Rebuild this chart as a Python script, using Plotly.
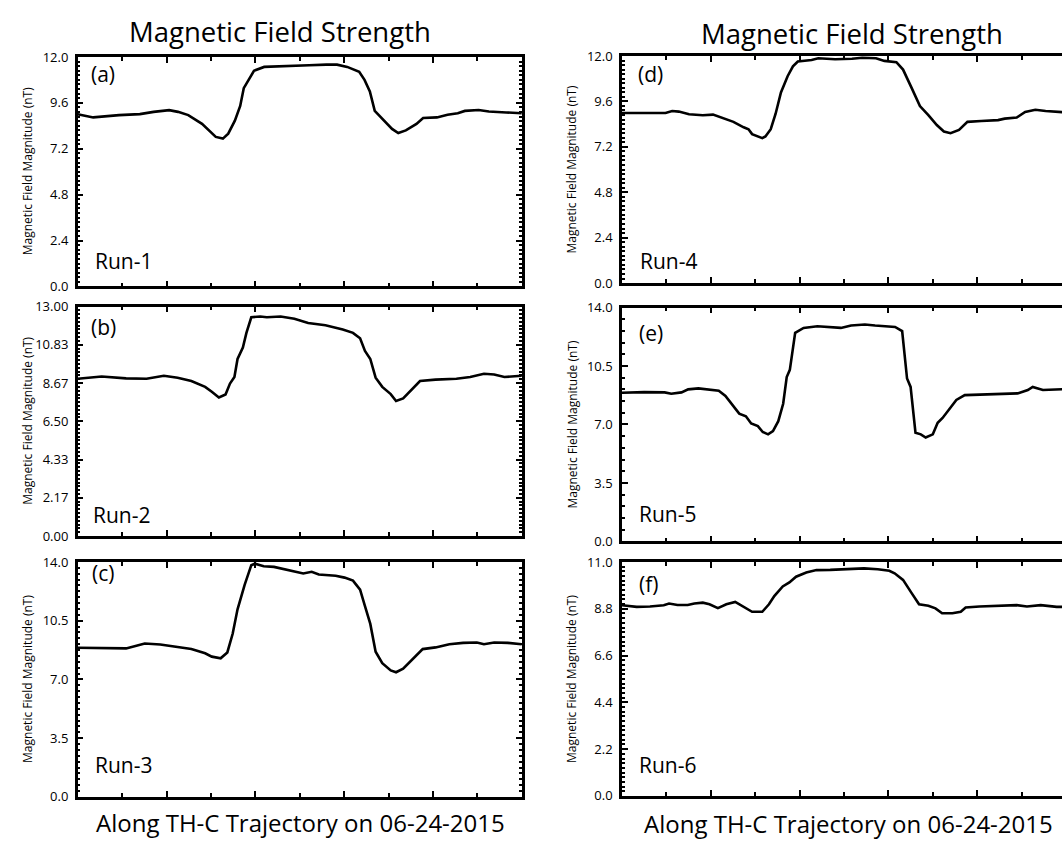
import plotly.graph_objects as go

# ---------------- data (x: % along trajectory, y: |B| in nT) ----------------
x_a = [0, 3.5, 9.3, 14.0, 17.1, 20.6, 22.6, 24.9, 28.0, 29.6, 31.1, 32.7, 33.9, 35.4, 36.6, 37.4, 38.5, 39.7,
       42.0, 46.7, 52.1, 56.0, 58.4, 60.7, 63.4, 64.6, 65.8, 66.9, 68.9, 70.8, 72.2, 73.9, 76.3, 77.8, 80.9,
       83.3, 85.6, 87.2, 90.3, 92.6, 96.5, 100]
y_a = [9.01, 8.84, 8.96, 9.01, 9.13, 9.22, 9.13, 8.96, 8.50, 8.16, 7.82, 7.73, 7.99, 8.67, 9.44, 10.37, 10.80, 11.28,
       11.48, 11.54, 11.57, 11.60, 11.60, 11.48, 11.23, 10.80, 10.20, 9.18, 8.67, 8.24, 8.02, 8.16, 8.50, 8.81, 8.84,
       8.98, 9.06, 9.18, 9.23, 9.15, 9.10, 9.06]

x_b = [0, 5.4, 10.9, 15.5, 19.4, 22.5, 25.6, 28.7, 30.2, 31.8, 33.3, 34.3, 35.3, 36.0, 37.2, 38.0, 39.1, 41.1,
       42.6, 45.7, 48.8, 51.9, 55.8, 59.7, 62.0, 63.6, 64.7, 65.9, 67.1, 68.6, 70.5, 71.7, 73.3, 75.2, 77.1,
       80.6, 85.3, 88.4, 91.5, 93.8, 96.1, 100]
y_b = [8.91, 9.04, 8.93, 8.91, 9.08, 8.97, 8.78, 8.45, 8.17, 7.85, 8.02, 8.64, 9.01, 10.03, 10.68, 11.51, 12.39, 12.44,
       12.39, 12.44, 12.31, 12.07, 11.94, 11.70, 11.51, 11.20, 10.49, 10.03, 8.97, 8.45, 8.04, 7.65, 7.80, 8.30, 8.78,
       8.86, 8.91, 9.01, 9.19, 9.15, 9.01, 9.08]

x_c = [0, 5.4, 10.9, 12.8, 15.1, 18.6, 22.5, 25.6, 28.7, 30.2, 32.2, 33.7, 34.9, 36.0, 37.6, 39.1, 39.9, 41.9,
       44.2, 48.1, 50.8, 52.7, 54.3, 58.1, 60.1, 62.0, 63.6, 64.7, 65.9, 67.1, 68.6, 70.5, 71.7, 73.3, 75.2,
       77.7, 80.6, 83.7, 86.8, 89.9, 91.5, 93.8, 96.9, 100]
y_c = [8.89, 8.85, 8.85, 8.98, 9.14, 9.08, 8.94, 8.81, 8.56, 8.36, 8.26, 8.61, 9.72, 11.18, 12.64, 13.81, 13.90, 13.75,
       13.71, 13.47, 13.32, 13.42, 13.26, 13.18, 13.07, 12.89, 12.35, 11.37, 10.31, 8.65, 7.97, 7.54, 7.43, 7.64, 8.17,
       8.81, 8.91, 9.10, 9.18, 9.20, 9.10, 9.20, 9.18, 9.10]

x_d = [0, 4.4, 9.8, 11.3, 12.8, 15.1, 18.2, 20.5, 22.8, 25.1, 27.4, 28.5, 29.3, 31.6, 32.3, 33.5, 34.6, 35.8,
       37.3, 38.5, 39.6, 42.7, 44.2, 48.0, 51.8, 54.1, 57.2, 59.1, 61.8, 63.3, 65.2, 67.1, 69.0, 70.9, 72.5,
       74.0, 75.9, 77.8, 80.9, 84.7, 86.2, 88.9, 90.8, 93.1, 95.4, 99.1, 100]
y_d = [8.99, 8.99, 8.99, 9.09, 9.06, 8.92, 8.87, 8.90, 8.73, 8.52, 8.23, 8.13, 7.87, 7.66, 7.75, 8.13, 8.95, 10.07,
       10.93, 11.45, 11.71, 11.79, 11.88, 11.83, 11.85, 11.91, 11.88, 11.74, 11.67, 11.28, 10.33, 9.35, 8.87, 8.35, 8.01,
       7.92, 8.09, 8.52, 8.56, 8.61, 8.69, 8.75, 9.04, 9.16, 9.09, 9.02, 9.02]

x_e = [0, 5.0, 9.6, 11.1, 13.4, 14.9, 17.2, 19.5, 21.8, 23.3, 24.8, 26.4, 27.9, 29.1, 30.6, 31.7, 32.9, 34.0,
       35.2, 36.3, 37.1, 37.8, 39.0, 40.9, 44.0, 47.0, 49.3, 51.6, 54.7, 57.0, 59.3, 61.5, 63.1, 64.2, 65.0,
       66.1, 67.3, 68.4, 70.0, 71.1, 72.2, 73.8, 75.3, 77.2, 80.7, 84.5, 89.1, 91.4, 92.5, 94.8, 98.1, 100]
y_e = [8.90, 8.94, 8.92, 8.84, 8.92, 9.10, 9.16, 9.10, 9.02, 8.71, 8.18, 7.65, 7.49, 7.06, 6.90, 6.55, 6.41, 6.61,
       7.20, 8.24, 9.84, 10.27, 12.49, 12.78, 12.88, 12.82, 12.78, 12.92, 12.98, 12.92, 12.90, 12.84, 12.59, 9.75, 9.25,
       6.51, 6.41, 6.22, 6.41, 7.10, 7.39, 7.98, 8.47, 8.76, 8.80, 8.82, 8.86, 9.06, 9.25, 9.06, 9.12, 9.12]

x_f = [0, 3.3, 6.3, 9.4, 10.6, 12.5, 14.8, 16.3, 18.2, 19.7, 21.6, 23.5, 25.5, 27.0, 28.5, 29.3, 31.6, 33.1,
       34.3, 36.2, 37.7, 39.2, 41.5, 43.8, 46.9, 50.7, 54.5, 57.6, 60.2, 61.4, 63.3, 65.2, 66.9, 69.0, 70.6,
       72.1, 74.4, 76.3, 77.4, 80.5, 83.6, 86.6, 88.9, 91.2, 94.3, 97.9, 100]
y_f = [8.97, 8.89, 8.91, 8.97, 9.05, 8.98, 8.98, 9.05, 9.09, 9.01, 8.83, 9.01, 9.12, 8.94, 8.79, 8.66, 8.66, 9.01,
       9.40, 9.85, 10.04, 10.31, 10.51, 10.62, 10.63, 10.65, 10.70, 10.66, 10.59, 10.47, 10.16, 9.55, 9.01, 8.94, 8.82,
       8.59, 8.59, 8.66, 8.86, 8.91, 8.94, 8.98, 8.97, 8.91, 8.97, 8.89, 8.89]

yticks_a = [0, 2.4, 4.8, 7.2, 9.6, 12.0]
ylabels_a = ["0.0", "2.4", "4.8", "7.2", "9.6", "12.0"]
yticks_b = [0, 13 / 6, 26 / 6, 6.5, 52 / 6, 65 / 6, 13.0]
ylabels_b = ["0.00", "2.17", "4.33", "6.50", "8.67", "10.83", "13.00"]
yticks_c = [0, 3.5, 7.0, 10.5, 14.0]
ylabels_c = ["0.0", "3.5", "7.0", "10.5", "14.0"]
yticks_f = [0, 2.2, 4.4, 6.6, 8.8, 11.0]
ylabels_f = ["0.0", "2.2", "4.4", "6.6", "8.8", "11.0"]

panel_letters = ["(a)", "(b)", "(c)", "(d)", "(e)", "(f)"]
run_names = ["Run-1", "Run-2", "Run-3", "Run-4", "Run-5", "Run-6"]
column_title = "Magnetic Field Strength"
bottom_title = "Along TH-C Trajectory on 06-24-2015"
y_title = "Magnetic Field Magnitude (nT)"

# ---------------- layout helpers ----------------
W, H = 1062, 848
FONT = "Open Sans"

def px_x(p):
    return p / W

def px_y(p):
    return 1 - p / H

# (x_left, x_right, y_top, y_bottom) in pixels
boxes = [
    (77.7, 522, 49, 283.5),
    (77.7, 522, 304, 538.5),
    (77.7, 522, 565, 805),
    (622, 1062, 48, 280),
    (622, 1062, 305, 544),
    (622, 1062, 565, 804),
]
series = [(x_a, y_a), (x_b, y_b), (x_c, y_c), (x_d, y_d), (x_e, y_e), (x_f, y_f)]
yranges = [12, 13, 14, 12, 14, 11]
yticks = [(yticks_a, ylabels_a), (yticks_b, ylabels_b), (yticks_c, ylabels_c),
          (yticks_a, ylabels_a), (yticks_c, ylabels_c), (yticks_f, ylabels_f)]
yminor = [0.24, 13 / 60, 0.35, 0.24, 0.7, 0.22]
letter_pos = [(89, 66), (89, 325), (90, 576), (636, 66), (637, 331), (637, 587)]
run_pos = [(93, 257), (91, 517), (93, 772), (638, 257), (637, 516), (637, 772)]

fig = go.Figure()
layout = dict(
    width=W, height=H, margin=dict(l=0, r=0, t=0, b=0),
    paper_bgcolor="white", plot_bgcolor="white", showlegend=False,
    font=dict(family=FONT, color="black"),
)
annotations = []

for i in range(6):
    n = "" if i == 0 else str(i + 1)
    xl, xr, yt, yb = boxes[i]
    right_col = i >= 3
    xmax = 100 * (xr - xl) / 444.0
    xs, ys = series[i]
    fig.add_trace(go.Scatter(x=xs, y=ys, mode="lines", xaxis="x" + n, yaxis="y" + n,
                             line=dict(color="black", width=2.6), hoverinfo="skip"))
    layout["xaxis" + n] = dict(
        domain=[px_x(xl), px_x(xr)], anchor="y" + n, range=[0, xmax],
        showline=True, linecolor="black", linewidth=2.5, mirror="ticks",
        ticks="inside", ticklen=6, tickwidth=2, tickcolor="black",
        tickmode="linear", tick0=0, dtick=20, showticklabels=False,
        minor=dict(ticks="inside", ticklen=4, tickwidth=2, tickcolor="black", tickmode="linear", tick0=0, dtick=10),
        showgrid=False, zeroline=False, fixedrange=True,
    )
    tv, tt = yticks[i]
    layout["yaxis" + n] = dict(
        domain=[px_y(yb), px_y(yt)], anchor="x" + n, range=[0, yranges[i]],
        showline=True, linecolor="black", linewidth=2.5,
        mirror=False if right_col else "ticks",
        ticks="inside", ticklen=6, tickwidth=2, tickcolor="black",
        tickmode="array", tickvals=tv, ticktext=tt,
        tickfont=dict(family=FONT, size=13, color="black"),
        ticklabelstandoff=4,
        minor=dict(ticks="inside", ticklen=3, tickwidth=1.5, tickcolor="black",
                   tickmode="linear", tick0=0, dtick=yminor[i]),
        showgrid=False, zeroline=False, fixedrange=True,
    )
    lx, ly = letter_pos[i]
    annotations.append(dict(text=panel_letters[i], x=px_x(lx), y=px_y(ly), xref="paper", yref="paper",
                            xanchor="left", yanchor="middle", showarrow=False,
                            font=dict(family=FONT, size=21, color="black")))
    rx, ry = run_pos[i]
    annotations.append(dict(text=run_names[i], x=px_x(rx), y=px_y(ry), xref="paper", yref="paper",
                            xanchor="left", yanchor="middle", showarrow=False,
                            font=dict(family=FONT, size=21, color="black")))
    annotations.append(dict(text=y_title, x=px_x(572 if right_col else 27.5), y=px_y((yt + yb) / 2),
                            xref="paper", yref="paper", xanchor="center", yanchor="middle",
                            textangle=-90, showarrow=False,
                            font=dict(family=FONT, size=12, color="black")))

for cx, cy in [(280, 23), (852, 25)]:
    annotations.append(dict(text=column_title, x=px_x(cx), y=px_y(cy), xref="paper", yref="paper",
                            xanchor="center", yanchor="middle", showarrow=False,
                            font=dict(family=FONT, size=27.5, color="black")))
for cx, cy in [(300, 831), (848, 832)]:
    annotations.append(dict(text=bottom_title, x=px_x(cx), y=px_y(cy), xref="paper", yref="paper",
                            xanchor="center", yanchor="middle", showarrow=False,
                            font=dict(family=FONT, size=24, color="black")))

layout["annotations"] = annotations
fig.update_layout(**layout)
fig.write_html("out.html")
